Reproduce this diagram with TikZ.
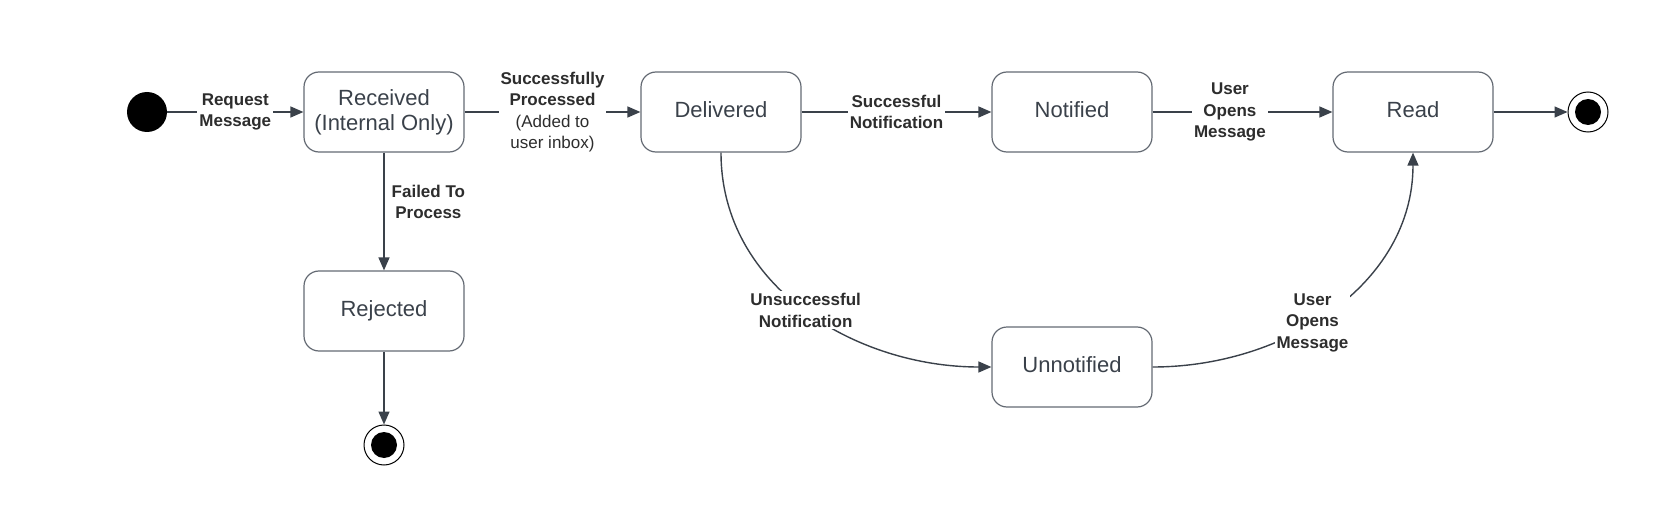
\documentclass[tikz,border=0pt]{standalone}
\usepackage{fontspec}
\setmainfont{Liberation Sans}
\usetikzlibrary{arrows.meta}
\definecolor{ink}{RGB}{58,65,74}
\definecolor{edgec}{RGB}{100,106,115}
\definecolor{txt}{RGB}{45,45,45}
\begin{document}
\begin{tikzpicture}[x=1pt,y=-1pt,
 state/.style={draw=edgec, line width=1.2pt, rounded corners=15pt, minimum width=160pt, minimum height=80pt, align=center, text=ink, font=\fontsize{22}{25}\selectfont, inner sep=0pt},
 single/.style={text height=17pt, text depth=6pt},
 lbl/.style={fill=white, text=txt, font=\bfseries\fontsize{17}{21.5}\selectfont, align=center, inner sep=2pt},
 lblplain/.style={text=txt, font=\bfseries\fontsize{17}{21.5}\selectfont, align=center, inner sep=2pt},
 arr/.style={draw=ink, line width=1.4pt, -{Triangle[length=13pt,width=11pt]}},
 startc/.style={circle, fill=black, minimum size=40pt, inner sep=0pt},
 endc/.style={circle, draw=black, line width=1pt, minimum size=40pt, inner sep=0pt},
]
\useasboundingbox (0,0) rectangle (1666,524);

\node[startc] (S) at (147,112) {};
\node[state] (Rc) at (384,112) {Received\\(Internal Only)};
\node[state, single] (D) at (721,112) {Delivered};
\node[state, single] (N) at (1072,112) {Notified};
\node[state, single] (Rd) at (1413,112) {Read};
\node[state, single] (Rj) at (384,311) {Rejected};
\node[state, single] (U) at (1072,367) {Unnotified};
\node[endc] (E1) at (1588,112) {};
\node[endc] (E2) at (384,445) {};
\fill[black] (E1.center) circle (13);
\fill[black] (E2.center) circle (13);

\draw[arr] (S) -- node[lbl] {Request\\Message} (Rc);
\draw[arr] (Rc) -- node[lbl] {Successfully\\Processed\\{\mdseries (Added to}\\{\mdseries user inbox)}} (D);
\draw[arr] (D) -- node[lbl] {Successful\\Notification} (N);
\draw[arr] (N) -- node[lbl, pos=0.43] {User\\Opens\\Message} (Rd);
\draw[arr] (Rd) -- (E1);
\draw[arr] (Rc) -- node[lblplain, pos=0.42, anchor=west, xshift=5pt] {Failed To\\Process} (Rj);
\draw[arr] (Rj) -- (E2);
\draw[arr] (D.south) to[out=-90, in=180] node[lbl, pos=0.5] {Unsuccessful\\Notification} (U.west);
\draw[arr] (U.east) to[out=0, in=-90] node[lbl, pos=0.435] {User\\Opens\\Message} (Rd.south);
\end{tikzpicture}
\end{document}
